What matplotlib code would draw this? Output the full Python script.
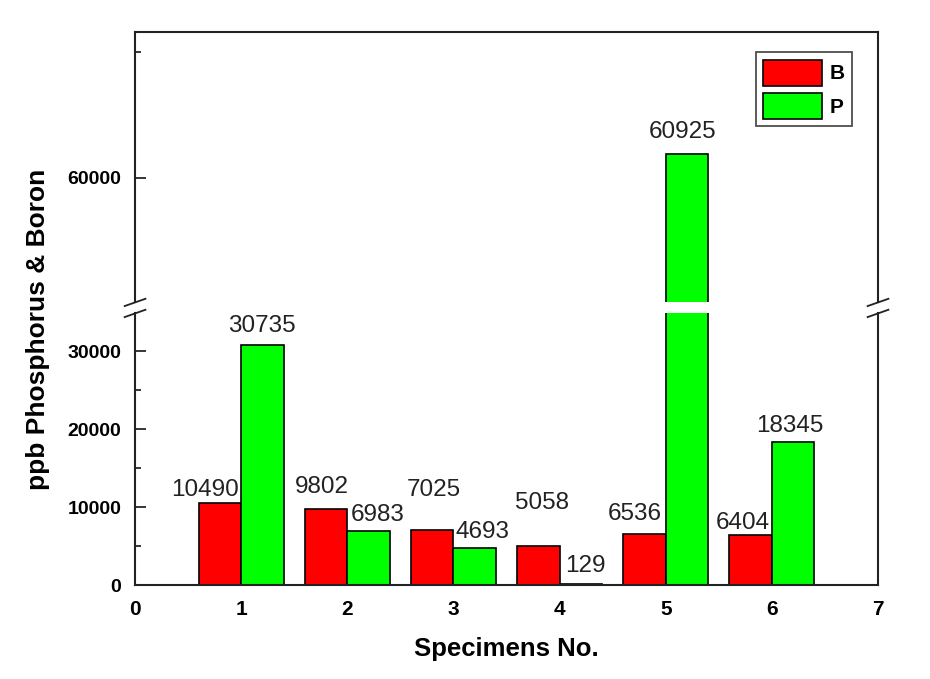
"""Broken-axis bar chart of boron and phosphorus content per specimen."""

import matplotlib

matplotlib.use("Agg")
import matplotlib.pyplot as plt
from matplotlib.ticker import FixedLocator, MultipleLocator

plt.rcParams["font.family"] = ["Liberation Sans", "DejaVu Sans"]

# data
SPECIMENS = [1, 2, 3, 4, 5, 6]
BORON = [10490, 9802, 7025, 5058, 6536, 6404]
PHOSPHORUS = [30735, 6983, 4693, 129, 60925, 18345]
SERIES_NAMES = ["B", "P"]

# label nudges in pixels (dx, gap above bar top), purely cosmetic
B_LABEL_SHIFT = [(-15, 13), (-4, 22), (2, 40), (4, 43), (-10, 20), (-8, 12)]
P_LABEL_SHIFT = [(-1, 19), (9, 16), (8, 16), (5, 18), (-4, 22), (-3, 16)]

RED = "#ff0000"
GREEN = "#00ff00"
BAR_WIDTH = 0.4
LOWER_LIM = (0, 34900)
UPPER_LIM = (55050, 65800)
PX = 0.72  # points per pixel at dpi 100


def style_axis(ax):
    ax.set_xlim(0, 7)
    ax.xaxis.set_major_locator(MultipleLocator(1))
    ax.tick_params(axis="y", which="major", direction="in", length=8, width=1.1,
                   pad=10, labelsize=14, right=False)
    ax.tick_params(axis="y", which="minor", direction="in", length=4, width=1.1, right=False)
    ax.tick_params(axis="x", which="both", direction="in", length=0, pad=11, labelsize=15)
    for lab in ax.get_xticklabels() + ax.get_yticklabels():
        lab.set_fontweight("bold")
    for spine in ax.spines.values():
        spine.set_linewidth(1.5)
        spine.set_color("#222222")


def draw_bars(ax):
    xs_b = [x - BAR_WIDTH / 2 for x in SPECIMENS]
    xs_p = [x + BAR_WIDTH / 2 for x in SPECIMENS]
    hb = ax.bar(xs_b, BORON, BAR_WIDTH, color=RED, edgecolor="black", linewidth=1.2, label=SERIES_NAMES[0])
    hp = ax.bar(xs_p, PHOSPHORUS, BAR_WIDTH, color=GREEN, edgecolor="black", linewidth=1.2, label=SERIES_NAMES[1])
    return hb, hp


def add_labels(ax_low, ax_up):
    for xs, vals, shifts in (
        ([x - BAR_WIDTH / 2 for x in SPECIMENS], BORON, B_LABEL_SHIFT),
        ([x + BAR_WIDTH / 2 for x in SPECIMENS], PHOSPHORUS, P_LABEL_SHIFT),
    ):
        for x, v, (dx, dy) in zip(xs, vals, shifts):
            ax = ax_up if v > LOWER_LIM[1] else ax_low
            ax.annotate(str(v), xy=(x, v), xytext=(dx * PX, dy * PX), textcoords="offset points",
                        ha="center", va="center", fontsize=17.5, color="#222222", clip_on=False)


def add_break_marks(ax_low, ax_up):
    kw = dict(color="#222222", linewidth=1.3, clip_on=False)
    for xa in (0, 1):
        ax_up.plot([xa - 0.014, xa + 0.014], [-0.015, 0.012], transform=ax_up.transAxes, **kw)
        ax_low.plot([xa - 0.014, xa + 0.014], [0.985, 1.012], transform=ax_low.transAxes, **kw)


def main():
    fig = plt.figure(figsize=(9.3, 6.79), dpi=100)
    ax_up = fig.add_axes([0.1452, 0.5552, 0.7989, 0.3977])
    ax_low = fig.add_axes([0.1452, 0.1384, 0.7989, 0.4006])

    draw_bars(ax_up)
    hb, hp = draw_bars(ax_low)

    ax_low.set_ylim(*LOWER_LIM)
    ax_low.yaxis.set_major_locator(MultipleLocator(10000))
    ax_low.yaxis.set_minor_locator(MultipleLocator(5000))
    ax_up.set_ylim(*UPPER_LIM)
    ax_up.yaxis.set_major_locator(FixedLocator([60000]))
    ax_up.yaxis.set_minor_locator(FixedLocator([65000]))

    style_axis(ax_low)
    style_axis(ax_up)
    ax_up.spines["bottom"].set_visible(False)
    ax_low.spines["top"].set_visible(False)
    ax_up.tick_params(axis="x", which="both", labelbottom=False)

    add_labels(ax_low, ax_up)
    add_break_marks(ax_low, ax_up)

    ax_low.set_xlabel("Specimens No.", fontsize=18.5, fontweight="bold", labelpad=13)
    fig.text(0.041, 0.515, "ppb Phosphorus & Boron", rotation=90, ha="center", va="center",
             fontsize=19, fontweight="bold")

    leg = ax_up.legend(handles=[hb, hp], loc="upper right", bbox_to_anchor=(0.9655, 0.925),
                       fontsize=15, frameon=True, fancybox=False, handlelength=2.8, handleheight=1.55,
                       handletextpad=0.4, borderpad=0.35, labelspacing=0.35, borderaxespad=0)
    leg.get_frame().set_edgecolor("#222222")
    leg.get_frame().set_linewidth(1.3)
    for t in leg.get_texts():
        t.set_fontweight("bold")

    fig.savefig("out.png", dpi=100)
    plt.close(fig)


if __name__ == "__main__":
    main()
